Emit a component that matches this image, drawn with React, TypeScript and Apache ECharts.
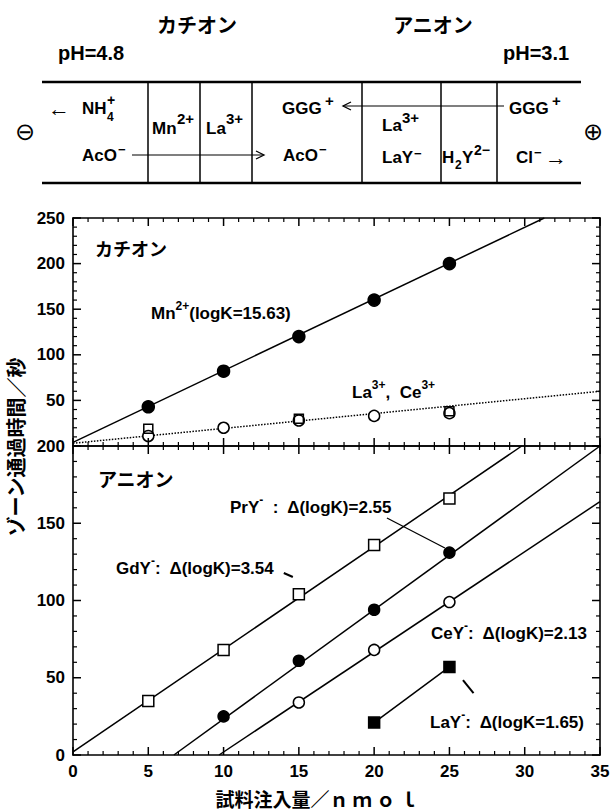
import React, { useEffect, useRef } from 'react';
import * as echarts from 'echarts';

const LATIN = '"Liberation Sans", Arial, Helvetica, sans-serif';
const CJK = '"Noto Sans CJK JP", "Noto Sans CJK SC", sans-serif';
const SYM = '"DejaVu Sans", sans-serif';

// ---- axis ranges / ticks ----
const X_MIN = 0;
const X_MAX = 35;
const X_STEP = 5;
const UPPER_Y_MAX = 250;
const LOWER_Y_MAX = 200;
const Y_STEP = 50;
const xTickValues = [
  0, 1, 2, 3, 4, 5, 6, 7, 8, 9, 10, 11, 12, 13, 14, 15, 16, 17,
  18, 19, 20, 21, 22, 23, 24, 25, 26, 27, 28, 29, 30, 31, 32, 33, 34, 35,
];
const upperYTickValues = [
  0, 10, 20, 30, 40, 50, 60, 70, 80, 90, 100, 110, 120, 130, 140, 150,
  160, 170, 180, 190, 200, 210, 220, 230, 240, 250,
];
const lowerYTickValues = [
  0, 10, 20, 30, 40, 50, 60, 70, 80, 90, 100, 110, 120, 130, 140, 150,
  160, 170, 180, 190, 200,
];

// ---- upper panel: cations ----
const sampleAmounts = [5, 10, 15, 20, 25];
const mnTimes = [43, 82, 120, 160, 200];
const mnFitX = [0, 31.3];
const mnFitY = [4, 250];
const laTimes = [11, 20, 28, 33, 36];
const ceAmounts = [5, 15, 25];
const ceTimes = [19, 30, 38];
const laCeFitX = [0, 35];
const laCeFitY = [3, 60];

// ---- lower panel: anions ----
const gdyTimes = [35, 68, 104, 136, 166];
const gdyFitX = [0, 29.8];
const gdyFitY = [2, 200];
const pryAmounts = [10, 15, 20, 25];
const pryTimes = [25, 61, 94, 131];
const pryFitX = [6.7, 35];
const pryFitY = [0, 200];
const ceyAmounts = [15, 20, 25];
const ceyTimes = [34, 68, 99];
const ceyFitX = [9.7, 35];
const ceyFitY = [0, 164];
const layAmounts = [20, 25];
const layTimes = [21, 57];

// ---- annotation pointer lines (data coords) ----
const pryPointerX = [20.85, 24.7];
const pryPointerY = [153.4, 134];
const gdyPointerX = [14.0, 14.6];
const gdyPointerY = [117.8, 115.2];
const layPointerX = [25.9, 26.6];
const layPointerY = [48.5, 40];

const zip = (xs: number[], ys: number[]) => xs.map((x, i) => [x, ys[i]]);

const lineSeries = (xi: number, xs: number[], ys: number[], extra: any = {}) => ({
  type: 'line',
  xAxisIndex: xi,
  yAxisIndex: xi,
  data: zip(xs, ys),
  symbol: 'none',
  silent: true,
  z: 2,
  lineStyle: { color: '#000', width: 1.5, ...(extra.lineStyle || {}) },
});

const markerSeries = (
  xi: number,
  xs: number[],
  ys: number[],
  symbol: string,
  size: number,
  fill: string,
  z = 3
) => ({
  type: 'scatter',
  xAxisIndex: xi,
  yAxisIndex: xi,
  data: zip(xs, ys),
  symbol,
  symbolSize: size,
  silent: true,
  z,
  itemStyle: { color: fill, borderColor: '#000', borderWidth: 1.5, opacity: 1 },
});

// tick marks drawn through the axes' own scales (inward on all four sides)
const tickSeries = (
  xi: number,
  values: number[],
  dir: 'x' | 'y',
  otherMin: number,
  otherMax: number,
  majorStep: number
) => ({
  type: 'custom',
  xAxisIndex: xi,
  yAxisIndex: xi,
  silent: true,
  clip: false,
  z: 6,
  data: values.map((v) => (dir === 'x' ? [v, otherMin] : [otherMin, v])),
  renderItem: (_params: any, api: any) => {
    const v = api.value(dir === 'x' ? 0 : 1);
    const major = Math.abs(v % majorStep) < 1e-9;
    const len = major ? 8 : 4;
    const st = { stroke: '#000', lineWidth: major ? 1.5 : 1.2 };
    if (dir === 'x') {
      const a = api.coord([v, otherMin]);
      const b = api.coord([v, otherMax]);
      return {
        type: 'group',
        children: [
          { type: 'line', shape: { x1: a[0], y1: a[1], x2: a[0], y2: a[1] - len }, style: st },
          { type: 'line', shape: { x1: b[0], y1: b[1], x2: b[0], y2: b[1] + len }, style: st },
        ],
      };
    }
    const a = api.coord([otherMin, v]);
    const b = api.coord([otherMax, v]);
    return {
      type: 'group',
      children: [
        { type: 'line', shape: { x1: a[0], y1: a[1], x2: a[0] + len, y2: a[1] }, style: st },
        { type: 'line', shape: { x1: b[0], y1: b[1], x2: b[0] - len, y2: b[1] }, style: st },
      ],
    };
  },
});

const axisCommon = (showLabel: boolean, extraLabel: any = {}) => ({
  axisLine: { show: true, onZero: false, lineStyle: { color: '#000', width: 1.6 } },
  axisTick: { show: false },
  minorTick: { show: false },
  splitLine: { show: false },
  minorSplitLine: { show: false },
  axisLabel: {
    show: showLabel,
    color: '#000',
    fontSize: 17,
    fontWeight: 'bold',
    fontFamily: LATIN,
    margin: 8,
    ...extraLabel,
  },
});

const xAxisDef = (grid: number, position: string, showLabel: boolean) => ({
  type: 'value',
  gridIndex: grid,
  position,
  min: X_MIN,
  max: X_MAX,
  interval: X_STEP,
  ...axisCommon(showLabel),
});

const yAxisDef = (grid: number, position: string, max: number, showLabel: boolean, extraLabel: any = {}) => ({
  type: 'value',
  gridIndex: grid,
  position,
  min: 0,
  max,
  interval: Y_STEP,
  ...axisCommon(showLabel, extraLabel),
});

const txt = (x: number, y: number, text: string, size = 17, opts: any = {}) => ({
  type: 'text',
  x,
  y,
  silent: true,
  z: 10,
  style: {
    text,
    fontSize: size,
    fontFamily: opts.family || LATIN,
    fontWeight: opts.weight || 'bold',
    fill: '#000',
    align: opts.align || 'left',
    verticalAlign: 'middle',
  },
  ...(opts.rotation ? { rotation: opts.rotation } : {}),
});

const richTxt = (x: number, y: number, text: string) => ({
  type: 'text',
  x,
  y,
  silent: true,
  z: 10,
  style: {
    text,
    fill: '#000',
    align: 'left',
    verticalAlign: 'middle',
    rich: {
      n: { fontSize: 17, lineHeight: 26, fontFamily: LATIN, fontWeight: 'bold', fill: '#000' },
      s: { fontSize: 12, lineHeight: 12, fontFamily: LATIN, fontWeight: 'bold', fill: '#000', verticalAlign: 'top' },
    },
  },
});

const seg = (x1: number, y1: number, x2: number, y2: number, w = 1.5) => ({
  type: 'line',
  silent: true,
  z: 10,
  shape: { x1, y1, x2, y2 },
  style: { stroke: '#000', lineWidth: w },
});

const arrowHead = (pts: number[][]) => ({
  type: 'polyline',
  silent: true,
  z: 10,
  shape: { points: pts },
  style: { stroke: '#000', lineWidth: 1.3, fill: 'none' },
});

const cellDividers = [148, 200, 252, 362, 441, 497];

const buildGraphic = () => {
  const g: any[] = [];
  // headings
  g.push(txt(197, 24, 'カチオン', 20, { family: CJK, align: 'center' }));
  g.push(txt(433, 24, 'アニオン', 20, { family: CJK, align: 'center' }));
  g.push(txt(58, 53, 'pH=4.8', 20));
  g.push(txt(503, 53, 'pH=3.1', 20));
  // tube
  g.push(seg(42, 82, 581, 82, 2.4));
  g.push(seg(42, 183, 581, 183, 2.4));
  cellDividers.forEach((x) => g.push(seg(x, 82, x, 183, 1.5)));
  // electrodes
  g.push(txt(25, 132, '⊖', 24, { align: 'center', family: SYM, weight: 'normal' }));
  g.push(txt(593, 132, '⊕', 24, { align: 'center', family: SYM, weight: 'normal' }));
  // left zone
  g.push(txt(48, 108, '←', 22, { weight: 'normal' }));
  g.push(txt(82, 108, 'NH', 17));
  g.push(txt(107, 100, '+', 14));
  g.push(txt(107, 117, '4', 12));
  g.push(txt(82, 155, 'AcO', 17));
  g.push(txt(118, 149, '−', 13));
  g.push(seg(132, 155, 263, 155, 1.2));
  g.push(arrowHead([[256, 151], [264, 155], [256, 159]]));
  // Mn / La zones
  g.push(txt(152, 128, 'Mn', 17));
  g.push(txt(177, 118, '2+', 15));
  g.push(txt(206, 128, 'La', 17));
  g.push(txt(226, 118, '3+', 15));
  // middle zone
  g.push(txt(282, 108, 'GGG', 17));
  g.push(txt(325, 100, '+', 15));
  g.push(txt(283, 155, 'AcO', 17));
  g.push(txt(319, 149, '−', 13));
  g.push(seg(343, 106, 504, 106, 1.2));
  g.push(arrowHead([[351, 102], [343, 106], [351, 110]]));
  // LaY zone
  g.push(txt(382, 125, 'La', 17));
  g.push(txt(402, 117, '3+', 15));
  g.push(txt(382, 157, 'LaY', 17));
  g.push(txt(414, 153, '−', 13));
  // H2Y zone
  g.push(txt(442, 157, 'H', 17));
  g.push(txt(455, 165, '2', 12));
  g.push(txt(462, 157, 'Y', 17));
  g.push(txt(474, 150, '2−', 14));
  // right zone
  g.push(txt(509, 108, 'GGG', 17));
  g.push(txt(552, 100, '+', 15));
  g.push(txt(516, 157, 'Cl', 17));
  g.push(txt(534, 152, '−', 13));
  g.push(txt(545, 157, '→', 22, { weight: 'normal' }));

  // panel labels
  g.push(txt(95, 248, 'カチオン', 18, { family: CJK }));
  g.push(txt(98, 478, 'アニオン', 19, { family: CJK }));
  g.push(richTxt(151, 313, '{n|Mn}{s|2+}{n|(logK=15.63)}'));
  g.push(richTxt(352, 392, '{n|La}{s|3+}{n|,  Ce}{s|3+}'));
  g.push(richTxt(230, 507, '{n|PrY}{s|-}{n|  :  Δ(logK)=2.55}'));
  g.push(richTxt(116, 568, '{n|GdY}{s|-}{n|:  Δ(logK)=3.54}'));
  g.push(richTxt(431, 633, '{n|CeY}{s|-}{n|:  Δ(logK)=2.13}'));
  g.push(richTxt(430, 722, '{n|LaY}{s|-}{n|:  Δ(logK=1.65)}'));

  // axis titles
  g.push(txt(15, 447, 'ゾーン通過時間／秒', 20, { family: CJK, align: 'center', rotation: Math.PI / 2 }));
  g.push(txt(317, 798, '試料注入量／ｎ ｍ ｏ ｌ', 19, { family: CJK, align: 'center' }));
  return g;
};

const buildOption = () => ({
  animation: false,
  backgroundColor: '#fff',
  grid: [
    { left: 73, right: 13, top: 218, height: 228, containLabel: false, outerBoundsMode: 'none' },
    { left: 73, right: 13, top: 446, height: 309, containLabel: false, outerBoundsMode: 'none' },
  ],
  xAxis: [
    xAxisDef(0, 'bottom', false),
    xAxisDef(0, 'top', false),
    xAxisDef(1, 'bottom', true),
    xAxisDef(1, 'top', false),
  ],
  yAxis: [
    yAxisDef(0, 'left', UPPER_Y_MAX, true, { formatter: (v: number) => (v === 0 ? '' : String(v)) }),
    yAxisDef(0, 'right', UPPER_Y_MAX, false),
    yAxisDef(1, 'left', LOWER_Y_MAX, true),
    yAxisDef(1, 'right', LOWER_Y_MAX, false),
  ],
  series: [
    // ticks
    tickSeries(0, xTickValues, 'x', 0, UPPER_Y_MAX, X_STEP),
    tickSeries(0, upperYTickValues, 'y', X_MIN, X_MAX, Y_STEP),
    tickSeries(2, xTickValues, 'x', 0, LOWER_Y_MAX, X_STEP),
    tickSeries(2, lowerYTickValues, 'y', X_MIN, X_MAX, Y_STEP),
    // upper panel (axis index 0)
    lineSeries(0, mnFitX, mnFitY),
    markerSeries(0, sampleAmounts, mnTimes, 'circle', 12, '#000'),
    lineSeries(0, laCeFitX, laCeFitY, { lineStyle: { type: 'dotted' } }),
    markerSeries(0, sampleAmounts, laTimes, 'circle', 11, '#fff'),
    markerSeries(0, ceAmounts, ceTimes, 'rect', 9, 'rgba(0,0,0,0)', 4),
    // lower panel (axis index 2)
    lineSeries(2, gdyFitX, gdyFitY),
    markerSeries(2, sampleAmounts, gdyTimes, 'rect', 11, '#fff'),
    lineSeries(2, pryFitX, pryFitY),
    markerSeries(2, pryAmounts, pryTimes, 'circle', 11, '#000'),
    lineSeries(2, ceyFitX, ceyFitY),
    markerSeries(2, ceyAmounts, ceyTimes, 'circle', 11, '#fff'),
    lineSeries(2, layAmounts, layTimes),
    markerSeries(2, layAmounts, layTimes, 'rect', 11, '#000'),
    lineSeries(2, pryPointerX, pryPointerY, { lineStyle: { width: 1.3 } }),
    lineSeries(2, gdyPointerX, gdyPointerY, { lineStyle: { width: 2 } }),
    lineSeries(2, layPointerX, layPointerY, { lineStyle: { width: 2 } }),
  ],
  graphic: buildGraphic(),
});

export default function App() {
  const ref = useRef<HTMLDivElement>(null);
  useEffect(() => {
    document.body.style.margin = '0';
    if (!ref.current) return;
    const chart = echarts.init(ref.current, undefined, { renderer: 'svg' });
    chart.setOption(buildOption() as any);
    return () => chart.dispose();
  }, []);
  return <div ref={ref} style={{ width: 613, height: 811, background: '#fff' }} />;
}
